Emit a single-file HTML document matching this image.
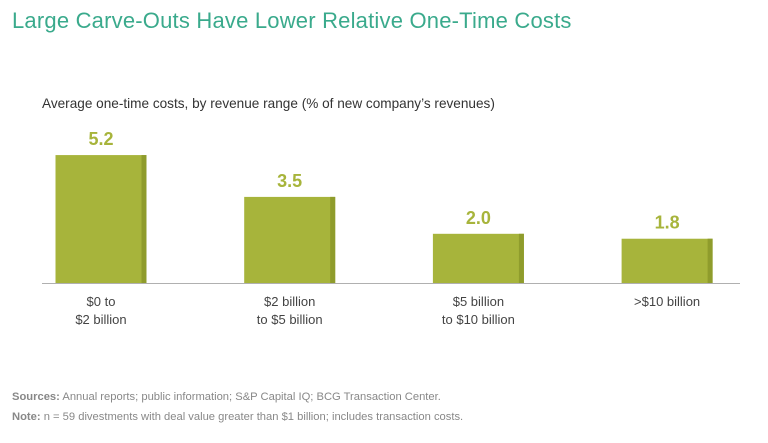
<!DOCTYPE html>
<html><head><meta charset="utf-8"><style>
body{margin:0;width:768px;height:438px;background:#fff;overflow:hidden;font-family:"Liberation Sans",sans-serif;}
</style></head><body>
<svg width="768" height="438" xmlns="http://www.w3.org/2000/svg">
<text x="12" y="28" font-size="22" letter-spacing="0.2" fill="#3aaa8c">Large Carve-Outs Have Lower Relative One-Time Costs</text>
<text x="42" y="108" font-size="13.6" fill="#333">Average one-time costs, by revenue range (% of new company’s revenues)</text>
<g id="bars"></g>
<line x1="42" y1="283.5" x2="740" y2="283.5" stroke="#b0b0b0" stroke-width="1"/>
<text x="12" y="400" font-size="11.2" fill="#888"><tspan font-weight="bold">Sources:</tspan> Annual reports; public information; S&amp;P Capital IQ; BCG Transaction Center.</text>
<text x="12" y="420" font-size="11.2" fill="#888"><tspan font-weight="bold">Note:</tspan> n = 59 divestments with deal value greater than $1 billion; includes transaction costs.</text>
</svg>
<script>
const catLine1 = ["$0 to","$2 billion","$5 billion",">$10 billion"];
const catLine2 = ["$2 billion","to $5 billion","to $10 billion",""];
const values = [5.2, 3.5, 2.0, 1.8];
const labels = ["5.2","3.5","2.0","1.8"];
const NS="http://www.w3.org/2000/svg";
const g=document.getElementById('bars');
const baseY=283, pxPerUnit=24.6, x0=55.5, step=188.7, bw=91;
function y(v){return baseY - v*pxPerUnit;}
function xPos(i){return x0 + i*step;}
function mk(t,a){const e=document.createElementNS(NS,t);for(const k in a)e.setAttribute(k,a[k]);g.appendChild(e);return e;}
values.forEach((v,i)=>{
  const x=xPos(i), top=y(v);
  const r=mk('rect',{x:x,y:top,width:bw,height:baseY-top,fill:'#a7b43b'});
  
  
  const s=mk('rect',{x:x+bw-5,y:top,width:5,height:baseY-top,fill:'#8f9c2c'});
  
  
  const t=mk('text',{x:x+bw/2,y:top-10,'text-anchor':'middle','font-size':18,'font-weight':'bold',fill:'#a7b43b'});
  t.textContent=labels[i];
  
  
  const c1=mk('text',{x:x+bw/2,y:306,'text-anchor':'middle','font-size':13,fill:'#444'});
  c1.textContent=catLine1[i];
  
  
  if(catLine2[i]){
    const c2=mk('text',{x:x+bw/2,y:324,'text-anchor':'middle','font-size':13,fill:'#444'});
    c2.textContent=catLine2[i];
    
    
  }
});
</script>
</body></html>
